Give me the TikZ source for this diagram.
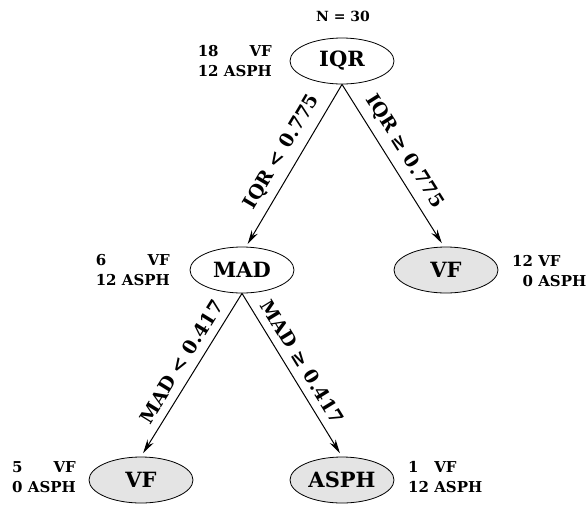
\documentclass[tikz,border=0pt]{standalone}
\usepackage{fontspec}
\setmainfont{DejaVu Serif}
\usetikzlibrary{shapes.geometric,arrows.meta}
\definecolor{leafgray}{RGB}{228,228,228}
\begin{document}
\begin{tikzpicture}[x=1pt,y=-1pt,
  tnode/.style={ellipse,draw,line width=0.8pt,minimum width=104pt,minimum height=46pt,inner sep=0pt,font=\fontsize{21}{25}\selectfont\bfseries},
  leaf/.style={tnode,fill=leafgray},
  cnt/.style={inner sep=0pt,font=\fontsize{15}{20}\selectfont\bfseries},
  edge/.style={-{Stealth[length=14pt,width=7pt]},line width=1pt},
  elab/.style={sloped,above=8pt,pos=0.47,inner sep=0pt,font=\fontsize{19}{22}\selectfont\bfseries}
]
\useasboundingbox (0,0) rectangle (587,504);
\node[inner sep=0pt,font=\fontsize{14}{16}\selectfont\bfseries] (n30) at (343,16) {N = 30};
\node[tnode] (iqr) at (342,61) {IQR};
\node[tnode] (mad) at (242,270) {MAD};
\node[leaf] (vfr) at (446,270) {VF};
\node[leaf] (vfl) at (141,480) {VF};
\node[leaf] (asph) at (342,480) {ASPH};

\node[cnt,anchor=east] (ciqr) at (272,62) {\begin{tabular}{@{}l@{\ }r@{}}18 & VF\\ 12 & ASPH\end{tabular}};
\node[cnt,anchor=east] (cmad) at (170,271) {\begin{tabular}{@{}l@{\ }r@{}}6 & VF\\ 12 & ASPH\end{tabular}};
\node[cnt,anchor=west] (cvfr) at (512,272) {\begin{tabular}{@{}r@{\ }l@{}}12 & VF\\ 0 & ASPH\end{tabular}};
\node[cnt,anchor=east] (cvfl) at (76,478) {\begin{tabular}{@{}l@{\ }r@{}}5 & VF\\ 0 & ASPH\end{tabular}};
\node[cnt,anchor=west] (casph) at (408,478) {\begin{tabular}{@{}l@{\ }l@{}}1 & VF\\ 12 & ASPH\end{tabular}};

\draw[edge,shorten >=3pt] (iqr.south) -- (mad.80) node[elab] {IQR < 0.775};
\draw[edge,shorten >=4pt] (iqr.south) -- (vfr.95) node[elab] {IQR ≥ 0.775};
\draw[edge,shorten >=4pt] (mad.south) -- (vfl.north) node[elab] {MAD < 0.417};
\draw[edge,shorten >=4pt] (mad.south) -- (asph.north) node[elab] {MAD ≥ 0.417};
\end{tikzpicture}
\end{document}
